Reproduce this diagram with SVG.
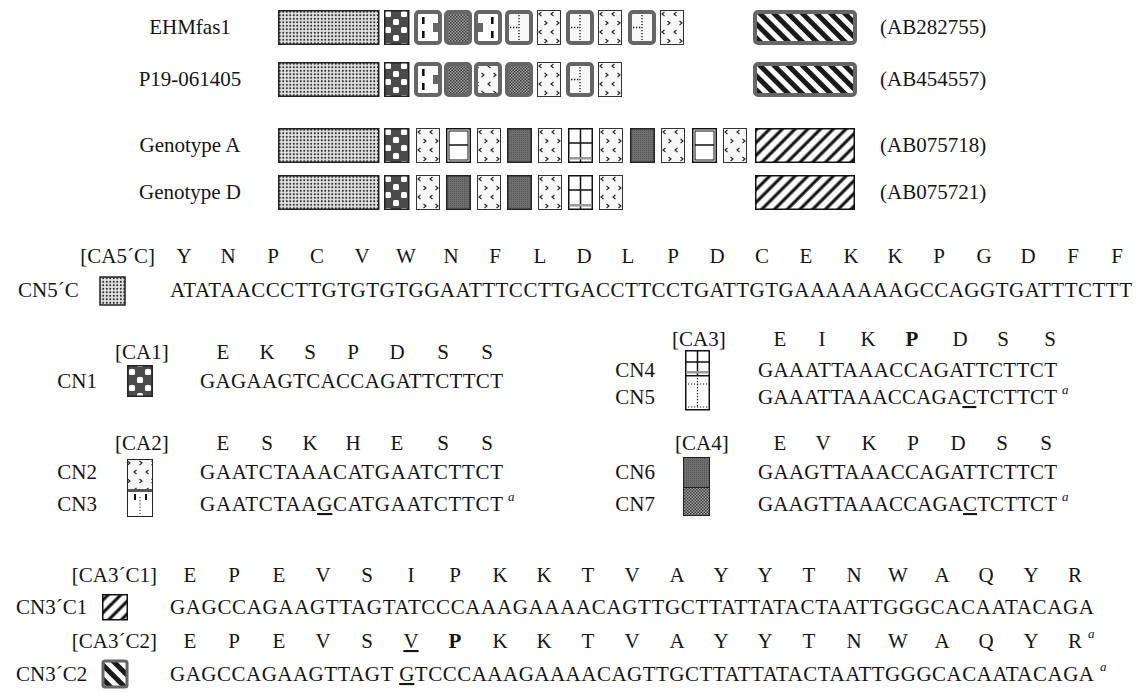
<svg xmlns="http://www.w3.org/2000/svg" width="1143" height="692" viewBox="0 0 1143 692">
<style>
 text{font-family:"Liberation Serif","DejaVu Serif","Times New Roman",serif;font-size:21px;fill:#151515}
 .m{text-anchor:middle}
 .e{text-anchor:end}
 .sup{font-size:13px;font-style:italic}
 .u{text-decoration:underline}
 .b{font-weight:bold}
</style>
<defs>
 <pattern id="stip" width="3.5" height="3.5" patternUnits="userSpaceOnUse">
  <rect width="3.5" height="3.5" fill="#e6e6e6"/>
  <circle cx="1.75" cy="1.75" r="1.1" fill="#333"/>
 </pattern>
 <pattern id="chkp" width="16" height="16" patternUnits="userSpaceOnUse">
  <rect width="16" height="16" fill="#4a4a4a"/>
  <rect x="1" y="1" width="6" height="6" rx="1.5" fill="#fff"/>
  <rect x="9" y="9" width="6" height="6" rx="1.5" fill="#fff"/>
 </pattern>
 <pattern id="lp" width="12" height="18" patternUnits="userSpaceOnUse">
  <rect width="12" height="18" fill="#f7f7f7"/>
  <path d="M4.5,2 L2,4 L4.5,6 M7.5,11 L10,13 L7.5,15" stroke="#222" stroke-width="1.1" fill="none"/>
 </pattern>
 <pattern id="dkp" width="2" height="2" patternUnits="userSpaceOnUse">
  <rect width="2" height="2" fill="#6e6e6e"/>
  <rect width="1" height="1" fill="#5a5a5a"/>
 </pattern>
 <pattern id="dsp" width="3" height="3" patternUnits="userSpaceOnUse">
  <rect width="3" height="3" fill="#9a9a9a"/>
  <rect width="1.5" height="1.5" fill="#444"/>
  <rect x="1.5" y="1.5" width="1.5" height="1.5" fill="#444"/>
 </pattern>
 <pattern id="hb" width="10" height="10" patternUnits="userSpaceOnUse" patternTransform="rotate(-45)">
  <rect width="10" height="10" fill="#fff"/>
  <rect width="5" height="10" fill="#1a1a1a"/>
 </pattern>
 <pattern id="hf" width="9" height="9" patternUnits="userSpaceOnUse" patternTransform="rotate(45)">
  <rect width="9" height="9" fill="#fff"/>
  <rect x="0" width="4" height="9" fill="#888"/>
  <rect x="1" width="2.2" height="9" fill="#111"/>
 </pattern>
 <g id="bigS"><rect x="0.75" y="0.75" width="100" height="33.5" fill="url(#stip)" stroke="#222" stroke-width="1.5"/></g>
 <g id="chk"><rect x="0.75" y="0.75" width="24" height="33.5" fill="url(#chkp)" stroke="#222" stroke-width="1.5"/></g>
 <g id="B1"><rect x="2" y="2" width="24" height="31" rx="3" fill="#fff" stroke="#666" stroke-width="4"/><rect x="19" y="13" width="6" height="9" fill="#666"/><rect x="8" y="7" width="2.6" height="7" fill="#111"/><rect x="8" y="21" width="2.6" height="7" fill="#111"/></g>
 <g id="B2"><rect x="2" y="2" width="24" height="31" rx="3" fill="#fff" stroke="#666" stroke-width="4"/><rect x="3" y="13" width="6" height="9" fill="#666"/><rect x="17" y="7" width="2.6" height="7" fill="#111"/><rect x="17" y="21" width="2.6" height="7" fill="#111"/></g>
 <g id="DSf"><rect x="2" y="2" width="24" height="31" rx="3" fill="url(#dsp)" stroke="#666" stroke-width="4"/></g>
 <g id="FC"><rect x="2" y="2" width="24" height="31" rx="3" fill="#f8f8f8" stroke="#666" stroke-width="4"/><path d="M14,5 V30 M5,17.5 H14" stroke="#111" stroke-width="1.3" stroke-dasharray="1.3 1.7" fill="none"/></g>
 <g id="Lf"><rect x="2" y="2" width="24" height="31" rx="3" fill="url(#lp)" stroke="#666" stroke-width="4"/></g>
 <g id="L"><rect x="0.5" y="0.5" width="23" height="34" fill="url(#lp)" stroke="#333" stroke-width="1"/></g>
 <g id="D"><rect x="0.75" y="0.75" width="23.5" height="33.5" fill="url(#dkp)" stroke="#222" stroke-width="1.5"/></g>
 <g id="W"><rect x="0.75" y="0.75" width="23.5" height="33.5" fill="#fff" stroke="#111" stroke-width="1.5"/><rect x="3" y="3" width="19" height="29" fill="none" stroke="#111" stroke-width="1"/><path d="M3,17 H22" stroke="#111" stroke-width="1.5"/></g>
 <g id="X"><rect x="0.75" y="0.75" width="23.5" height="33.5" fill="#fff" stroke="#111" stroke-width="1.5"/><path d="M12.5,1 V34 M1,15 H24" stroke="#111" stroke-width="1.5"/><rect x="1.5" y="29" width="22" height="2.5" fill="#999"/></g>
 <g id="HB"><rect x="2" y="2" width="100" height="31" rx="3" fill="url(#hb)" stroke="#666" stroke-width="4"/></g>
 <g id="HF"><rect x="0.75" y="0.75" width="98.5" height="33.5" fill="url(#hf)" stroke="#111" stroke-width="1.5"/></g>
</defs>
<rect width="1143" height="692" fill="#fff"/>

<g id="row-EHMfas1">
 <text x="190" y="34" class="m">EHMfas1</text>
 <use href="#bigS" x="278" y="10"/><use href="#chk" x="384" y="10"/><use href="#B1" x="414" y="10"/><use href="#DSf" x="444" y="10"/><use href="#B2" x="474" y="10"/><use href="#FC" x="505" y="10"/><use href="#L" x="537" y="10"/><use href="#FC" x="566" y="10"/><use href="#L" x="598" y="10"/><use href="#FC" x="628" y="10"/><use href="#L" x="660" y="10"/>
 <use href="#HB" x="753" y="10"/>
 <text x="880" y="34">(AB282755)</text>
</g>
<g id="row-P19">
 <text x="190" y="86" class="m">P19-061405</text>
 <use href="#bigS" x="278" y="62"/><use href="#chk" x="384" y="62"/><use href="#B1" x="414" y="62"/><use href="#DSf" x="444" y="62"/><use href="#Lf" x="474" y="62"/><use href="#DSf" x="505" y="62"/><use href="#L" x="537" y="62"/><use href="#FC" x="566" y="62"/><use href="#L" x="598" y="62"/>
 <use href="#HB" x="753" y="62"/>
 <text x="880" y="86">(AB454557)</text>
</g>
<g id="row-GenotypeA">
 <text x="190" y="152" class="m">Genotype A</text>
 <use href="#bigS" x="278" y="128"/><use href="#chk" x="384" y="128"/><use href="#L" x="416" y="128"/><use href="#W" x="446" y="128"/><use href="#L" x="477" y="128"/><use href="#D" x="507" y="128"/><use href="#L" x="538" y="128"/><use href="#X" x="568" y="128"/><use href="#L" x="599" y="128"/><use href="#D" x="630" y="128"/><use href="#L" x="661" y="128"/><use href="#W" x="692" y="128"/><use href="#L" x="723" y="128"/>
 <use href="#HF" x="755" y="128"/>
 <text x="880" y="152">(AB075718)</text>
</g>
<g id="row-GenotypeD">
 <text x="190" y="199" class="m">Genotype D</text>
 <use href="#bigS" x="278" y="175"/><use href="#chk" x="384" y="175"/><use href="#L" x="416" y="175"/><use href="#D" x="446" y="175"/><use href="#L" x="477" y="175"/><use href="#D" x="507" y="175"/><use href="#L" x="538" y="175"/><use href="#X" x="568" y="175"/><use href="#L" x="599" y="175"/>
 <use href="#HF" x="755" y="175"/>
 <text x="880" y="199">(AB075721)</text>
</g>

<g id="CA5C">
 <text x="155" y="263" class="e">[CA5´C]</text>
 <text x="184 228 273 317 362 406 451 495 540 584 628 673 717 762 806 851 895 939 984 1028 1073 1117" y="263" class="m">YNPCVWNFLDLPDCEKKPGDFF</text>
 <text x="18" y="297">CN5´C</text>
 <rect x="100" y="277" width="25" height="28" fill="url(#stip)" stroke="#222" stroke-width="1.5"/>
 <text x="170" y="297" textLength="962" lengthAdjust="spacing">ATATAACCCTTGTGTGTGGAATTTCCTTGACCTTCCTGATTGTGAAAAAAAGCCAGGTGATTTCTTT</text>
</g>

<g id="CA1">
 <text x="115" y="359">[CA1]</text>
 <text x="223 267 310 353 397 443 487" y="359" class="m">EKSPDSS</text>
 <text x="97" y="388" class="e">CN1</text>
 <rect x="127.75" y="365.75" width="24.5" height="30.5" fill="url(#chkp)" stroke="#222" stroke-width="1.5"/>
 <text x="200" y="388" textLength="303" lengthAdjust="spacing">GAGAAGTCACCAGATTCTTCT</text>
</g>

<g id="CA2">
 <text x="115" y="450">[CA2]</text>
 <text x="223 267 310 353 397 443 487" y="450" class="m">ESKHESS</text>
 <text x="97" y="479" class="e">CN2</text>
 <text x="97" y="511" class="e">CN3</text>
 <rect x="127.5" y="459.5" width="25" height="30" fill="url(#lp)" stroke="#222" stroke-width="1"/>
 <rect x="127.5" y="489.5" width="25" height="27" fill="#fff" stroke="#222" stroke-width="1"/>
 <rect x="128" y="489" width="24" height="3" fill="#555"/>
 <rect x="134" y="494" width="2" height="6" fill="#111"/><rect x="145" y="494" width="2" height="6" fill="#111"/>
 <path d="M140,497 V514" stroke="#111" stroke-width="1" stroke-dasharray="1.2 2"/>
 <text x="200" y="479" textLength="303" lengthAdjust="spacing">GAATCTAAACATGAATCTTCT</text>
 <text x="200" y="511" textLength="303" lengthAdjust="spacing">GAATCTAA<tspan class="u">G</tspan>CATGAATCTTCT</text>
 <text x="508" y="501" class="sup">a</text>
</g>

<g id="CA3">
 <text x="672" y="346">[CA3]</text>
 <text y="346" class="m"><tspan x="780">E</tspan><tspan x="822">I</tspan><tspan x="868">K</tspan><tspan x="912" class="b">P</tspan><tspan x="960">D</tspan><tspan x="1003">S</tspan><tspan x="1050">S</tspan></text>
 <text x="655" y="377" class="e">CN4</text>
 <text x="655" y="404" class="e">CN5</text>
 <rect x="685.75" y="350.75" width="23.5" height="25" fill="#fff" stroke="#111" stroke-width="1.5"/>
 <path d="M697.5,351 V376 M686,362 H709" stroke="#111" stroke-width="1.5"/>
 <rect x="687" y="371" width="21" height="2.5" fill="#999"/>
 <rect x="685.75" y="375.75" width="23.5" height="34" fill="#fff" stroke="#111" stroke-width="1.5"/>
 <path d="M697.5,378 V408 M688,384 H708 M688,407 H708" stroke="#111" stroke-width="1.2" stroke-dasharray="1.2 1.8"/>
 <text x="758" y="377" textLength="299" lengthAdjust="spacing">GAAATTAAACCAGATTCTTCT</text>
 <text x="758" y="404" textLength="299" lengthAdjust="spacing">GAAATTAAACCAGA<tspan class="u">C</tspan>TCTTCT</text>
 <text x="1062" y="394" class="sup">a</text>
</g>

<g id="CA4">
 <text x="675" y="450">[CA4]</text>
 <text x="780 823 869 913 958 1002 1046" y="450" class="m">EVKPDSS</text>
 <text x="655" y="479" class="e">CN6</text>
 <text x="655" y="511" class="e">CN7</text>
 <rect x="683.5" y="457.5" width="26" height="30" fill="url(#dkp)" stroke="#222" stroke-width="1"/>
 <rect x="683.5" y="487.5" width="26" height="28" fill="url(#dsp)" stroke="#222" stroke-width="1"/>
 <text x="758" y="479" textLength="299" lengthAdjust="spacing">GAAGTTAAACCAGATTCTTCT</text>
 <text x="758" y="511" textLength="299" lengthAdjust="spacing">GAAGTTAAACCAGA<tspan class="u">C</tspan>TCTTCT</text>
 <text x="1062" y="501" class="sup">a</text>
</g>

<g id="CA3C1">
 <text x="157" y="582" class="e">[CA3´C1]</text>
 <text x="190 234 279 323 367 411 455 500 544 588 632 677 721 765 809 854 898 942 986 1031 1075" y="582" class="m">EPEVSIPKKTVAYYTNWAQYR</text>
 <text x="16" y="614">CN3´C1</text>
 <rect x="102.75" y="594.75" width="24.5" height="25" fill="url(#hf)" stroke="#111" stroke-width="1.5"/>
 <text x="170" y="614" textLength="924" lengthAdjust="spacing">GAGCCAGAAGTTAGTATCCCAAAGAAAACAGTTGCTTATTATACTAATTGGGCACAATACAGA</text>
</g>

<g id="CA3C2">
 <text x="157" y="648" class="e">[CA3´C2]</text>
 <text y="648" class="m"><tspan x="190">E</tspan><tspan x="234">P</tspan><tspan x="279">E</tspan><tspan x="323">V</tspan><tspan x="367">S</tspan><tspan x="411" class="u">V</tspan><tspan x="455" class="b">P</tspan><tspan x="500">K</tspan><tspan x="544">K</tspan><tspan x="588">T</tspan><tspan x="632">V</tspan><tspan x="677">A</tspan><tspan x="721">Y</tspan><tspan x="765">Y</tspan><tspan x="809">T</tspan><tspan x="854">N</tspan><tspan x="898">W</tspan><tspan x="942">A</tspan><tspan x="986">Q</tspan><tspan x="1031">Y</tspan><tspan x="1075">R</tspan></text>
 <text x="1088" y="638" class="sup">a</text>
 <text x="16" y="681">CN3´C2</text>
 <rect x="103" y="661" width="24" height="26" rx="2" fill="url(#hb)" stroke="#666" stroke-width="3"/>
 <text x="170" y="681" textLength="924" lengthAdjust="spacing">GAGCCAGAAGTTAGT <tspan class="u">G</tspan>TCCCAAAGAAAACAGTTGCTTATTATACTAATTGGGCACAATACAGA</text>
 <text x="1100" y="671" class="sup">a</text>
</g>
</svg>
